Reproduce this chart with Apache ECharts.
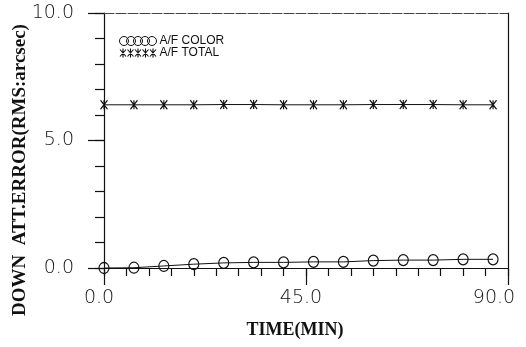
<!DOCTYPE html>
<html>
<head>
<meta charset="utf-8">
<script src="https://cdn.jsdelivr.net/npm/echarts@6/dist/echarts.min.js"></script>
<style>
  html, body { margin: 0; padding: 0; background: #fff; }
  #chart { width: 526px; height: 347px; }
</style>
</head>
<body>
<div id="chart"></div>
<script>
// Sample times (minutes) and attitude error series (arcsec RMS)
const timeMin = [0, 6.67, 13.33, 20, 26.67, 33.33, 40, 46.67, 53.33, 60, 66.67, 73.33, 80, 86.67];
const afColor = [0.00, 0.01, 0.08, 0.15, 0.20, 0.22, 0.22, 0.24, 0.24, 0.29, 0.31, 0.31, 0.34, 0.34];
const afTotal = [6.40, 6.40, 6.40, 6.40, 6.41, 6.41, 6.40, 6.40, 6.40, 6.41, 6.41, 6.41, 6.40, 6.40];
const xTicks = [0, 45, 90];
const yTicks = [0, 5, 10];
const seriesNames = ['A/F COLOR', 'A/F TOTAL'];

const ink = '#111';
const labelFont = { color: ink, fontFamily: '"DejaVu Sans", sans-serif', fontWeight: 200, fontSize: 19 };

// Asterisk marker drawn as strokes (x with a vertical bar)
const starPath = 'path://M0,0L10,10M10,0L0,10M5,0L5,10';
// Legend icons: five overlapping circles / five asterisks
function circleRow() {
  let d = '';
  for (let i = 0; i < 5; i++) {
    const cx = 4.5 + i * 7, r = 4.5, cy = 4.5;
    d += 'M' + (cx - r) + ',' + cy + 'A' + r + ',' + r + ',0,1,0,' + (cx + r) + ',' + cy +
         'A' + r + ',' + r + ',0,1,0,' + (cx - r) + ',' + cy + 'Z';
  }
  return 'path://' + d;
}
function starRow() {
  let d = '';
  for (let i = 0; i < 5; i++) {
    const x = i * 7.5;
    d += 'M' + x + ',1L' + (x + 6) + ',8M' + (x + 6) + ',1L' + x + ',8M' + (x + 3) + ',0L' + (x + 3) + ',9';
  }
  return 'path://' + d;
}

// Tick labels sit a little left of their ticks; the last one more so
function xLabel(v) {
  if (!xTicks.includes(v)) return '';
  return (v === 90 ? '{e|' : '{m|') + v.toFixed(1) + '}';
}

const chart = echarts.init(document.getElementById('chart'), null, { renderer: 'canvas' });
chart.setOption({
  backgroundColor: '#fff',
  animation: false,
  grid: { left: 104, right: 18, top: 13, bottom: 79 },
  legend: {
    left: 114, top: 30, orient: 'vertical', itemGap: 0,
    itemWidth: 37, itemHeight: 9,
    textStyle: { color: ink, fontFamily: '"Liberation Sans", sans-serif', fontSize: 12, lineHeight: 11, padding: [1, 0, 0, -2] },
    data: [
      { name: seriesNames[0], icon: circleRow(), itemStyle: { color: 'rgba(0,0,0,0)', borderColor: ink, borderWidth: 1 } },
      { name: seriesNames[1], icon: starRow(), itemStyle: { color: 'rgba(0,0,0,0)', borderColor: ink, borderWidth: 1.1 } }
    ]
  },
  xAxis: [
    { // minor ticks every 5 min
      type: 'value', min: 0, max: 90, interval: 5, position: 'bottom',
      axisLine: { onZero: false, lineStyle: { color: ink, width: 1.2 } },
      axisTick: { length: 8, lineStyle: { color: ink, width: 1.2 } },
      axisLabel: { show: false }, splitLine: { show: false }
    },
    { // major ticks with labels
      type: 'value', min: 0, max: 90, interval: 45, position: 'bottom',
      axisLine: { show: false, onZero: false },
      axisTick: { length: 17, lineStyle: { color: ink, width: 1.2 } },
      axisLabel: Object.assign({
        margin: 21, formatter: xLabel,
        rich: { m: { padding: [0, 10, 0, 0] }, e: { padding: [0, 28, 0, 0] } }
      }, labelFont),
      splitLine: { show: false }
    },
    { // top frame
      type: 'value', min: 0, max: 90, position: 'top',
      axisLine: { onZero: false, lineStyle: { color: '#444', width: 1, type: [10, 2] } },
      axisTick: { show: false }, axisLabel: { show: false }, splitLine: { show: false }
    }
  ],
  yAxis: [
    { // minor ticks every 1.0
      type: 'value', min: 0, max: 10, interval: 1, position: 'left',
      axisLine: { onZero: false, lineStyle: { color: ink, width: 1.2 } },
      axisTick: { length: 9, lineStyle: { color: ink, width: 1.2 } },
      axisLabel: { show: false }, splitLine: { show: false }
    },
    { // major ticks with labels
      type: 'value', min: 0, max: 10, interval: 5, position: 'left',
      axisLine: { show: false, onZero: false },
      axisTick: { length: 16, lineStyle: { color: ink, width: 1.2 } },
      axisLabel: Object.assign({ margin: 30, formatter: v => yTicks.includes(v) ? v.toFixed(1) : '' }, labelFont),
      splitLine: { show: false }
    },
    { // right frame
      type: 'value', min: 0, max: 10, position: 'right',
      axisLine: { onZero: false, lineStyle: { color: ink, width: 1.2 } },
      axisTick: { show: false }, axisLabel: { show: false }, splitLine: { show: false }
    }
  ],
  series: [
    {
      name: seriesNames[0], type: 'line', xAxisIndex: 0, yAxisIndex: 0,
      data: timeMin.map((t, i) => [t, afColor[i]]),
      symbol: 'circle', symbolSize: [10, 11],
      itemStyle: { color: 'rgba(0,0,0,0)', borderColor: ink, borderWidth: 1.2 },
      lineStyle: { color: ink, width: 1 }
    },
    {
      name: seriesNames[1], type: 'line', xAxisIndex: 0, yAxisIndex: 0,
      data: timeMin.map((t, i) => [t, afTotal[i]]),
      symbol: starPath, symbolSize: [7, 9],
      itemStyle: { color: 'rgba(0,0,0,0)', borderColor: ink, borderWidth: 1.3 },
      lineStyle: { color: ink, width: 1 }
    }
  ],
  graphic: [
    {
      type: 'text', x: 295, y: 330,
      style: { text: 'TIME(MIN)', fill: ink, font: 'bold 18px "Liberation Serif", serif', textAlign: 'center', textVerticalAlign: 'middle' }
    },
    {
      type: 'text', x: 20, y: 170, rotation: Math.PI / 2,
      style: { text: 'DOWN  ATT.ERROR(RMS:arcsec)', fill: ink, font: 'bold 19px "Liberation Serif", serif', textAlign: 'center', textVerticalAlign: 'middle' }
    }
  ]
});
</script>
</body>
</html>
